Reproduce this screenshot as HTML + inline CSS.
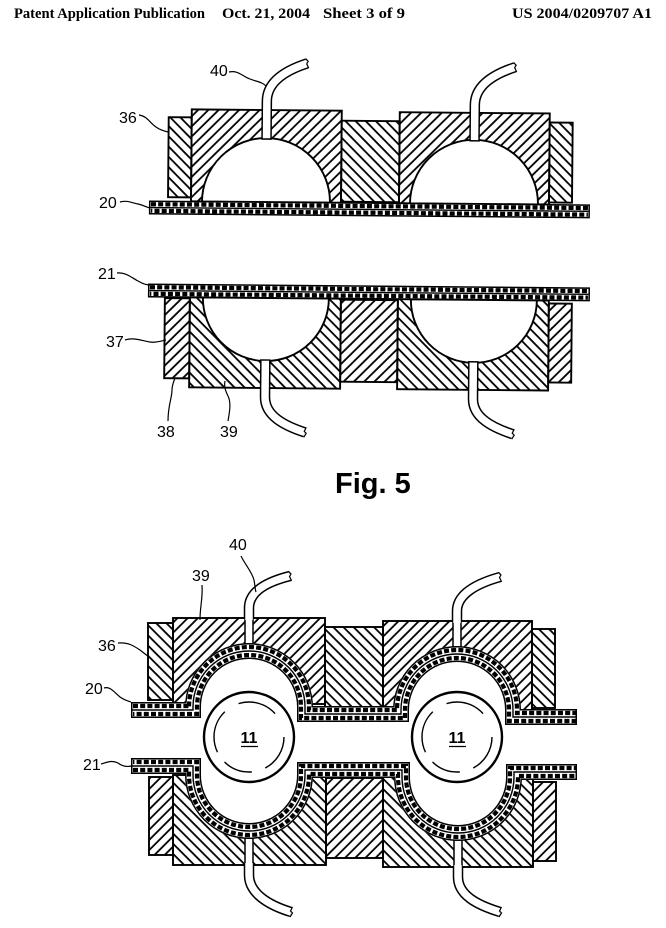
<!DOCTYPE html>
<html><head><meta charset="utf-8">
<style>
html,body{margin:0;padding:0;background:#fff;}
svg{display:block;}
.hd{font-family:"Liberation Serif",serif;font-weight:bold;font-size:15px;}
.lb{font-family:"Liberation Sans",sans-serif;font-size:16px;}
.fig{font-family:"Liberation Sans",sans-serif;font-weight:bold;font-size:29px;}
.blk{stroke:#000;stroke-width:1.9;}
.ld{fill:none;stroke:#000;stroke-width:1.2;}
.s1{fill:none;stroke:#000;}
.s2{fill:none;stroke:#fff;}
.s3{fill:none;stroke:#000;stroke-width:1.4;}
.s4{fill:none;stroke:#000;stroke-width:4.2;stroke-dasharray:5 2.2;}
.s5{fill:none;stroke:#000;stroke-width:4.2;stroke-dasharray:5 2.2;stroke-dashoffset:3.6;}
.t1{fill:none;stroke:#000;stroke-width:10.5;}
.t2{fill:none;stroke:#fff;stroke-width:7.5;}
.ch{fill:#fff;stroke:#000;stroke-width:1.5;}
.cv{fill:#fff;stroke:#000;stroke-width:1.9;}
</style></head><body>
<svg width="666" height="928" viewBox="0 0 666 928" xmlns="http://www.w3.org/2000/svg">
<defs>
<pattern id="hf" width="7.2" height="7.2" patternUnits="userSpaceOnUse" patternTransform="rotate(45)"><line x1="1" y1="-1" x2="1" y2="9" stroke="#000" stroke-width="1.8"/></pattern>
<pattern id="hb" width="7.2" height="7.2" patternUnits="userSpaceOnUse" patternTransform="rotate(-45)"><line x1="1" y1="-1" x2="1" y2="9" stroke="#000" stroke-width="1.8"/></pattern>
</defs>

<!-- Header -->
<text class="hd" x="14" y="18" textLength="191" lengthAdjust="spacingAndGlyphs">Patent Application Publication</text>
<text class="hd" x="222" y="18" textLength="88" lengthAdjust="spacingAndGlyphs">Oct. 21, 2004</text>
<text class="hd" x="323" y="18" textLength="82" lengthAdjust="spacingAndGlyphs">Sheet 3 of 9</text>
<text class="hd" x="512" y="18" textLength="140" lengthAdjust="spacingAndGlyphs">US 2004/0209707 A1</text>

<!-- ===== TOP FIGURE, UPPER HALF ===== -->
<g transform="rotate(0.5 149 200)">
<rect class="blk" x="168" y="117" width="23" height="80" fill="url(#hb)"/>
<rect class="blk" x="191" y="109" width="150" height="92" fill="url(#hf)"/>
<rect class="blk" x="341" y="119" width="58" height="81" fill="url(#hb)"/>
<rect class="blk" x="399" y="110" width="150" height="91" fill="url(#hf)"/>
<rect class="blk" x="549" y="119" width="23" height="80" fill="url(#hb)"/>
<path class="cv" d="M202,201 A64,64 0 0 1 330,201 Z"/>
<path class="cv" d="M410,201 A64,64 0 0 1 538,201 Z"/>
<rect class="ch" x="261.5" y="109" width="9" height="29"/>
<rect class="ch" x="469.5" y="110" width="9" height="28"/>
<path class="t1" d="M266,110 V100 C266,82 282,70 306,62"/>
<path class="t2" d="M266,111 V100 C266,82 282,70 306,62"/>
<path class="ld" d="M304.4,57.3 L307,60 L305.5,62.5 L307.6,66.8"/>
<path class="t1" d="M474,111 V102 C474,84 490,72 514,64"/>
<path class="t2" d="M474,112 V102 C474,84 490,72 514,64"/>
<path class="ld" d="M512.4,59.3 L515,62 L513.5,64.5 L515.6,68.8"/>
<!-- sheet 20 -->
<path class="s1" style="stroke-width:14" d="M149,207.5 H590"/>
<path class="s2" style="stroke-width:11" d="M150.5,207.5 H588.5"/>
<path class="s3" d="M150.5,207.5 H588.5"/>
<path class="s4" d="M151,204.2 H588"/>
<path class="s5" d="M151,210.8 H588"/>
</g>

<!-- ===== TOP FIGURE, LOWER HALF ===== -->
<g transform="rotate(0.5 148 284)">
<rect class="blk" x="165" y="298" width="25" height="80" fill="url(#hf)"/>
<rect class="blk" x="190" y="297" width="151" height="90" fill="url(#hb)"/>
<rect class="blk" x="341" y="298" width="57" height="82" fill="url(#hf)"/>
<rect class="blk" x="398" y="297" width="151" height="90" fill="url(#hb)"/>
<rect class="blk" x="549" y="300" width="23" height="79" fill="url(#hf)"/>
<path class="cv" d="M203,297 A63,63 0 0 0 329,297 Z"/>
<path class="cv" d="M411,297 A63,63 0 0 0 537,297 Z"/>
<rect class="ch" x="261.5" y="359" width="9" height="28"/>
<rect class="ch" x="469.5" y="359" width="9" height="28"/>
<path class="t1" d="M266,386 V396 C266,414 284,424 306,431"/>
<path class="t2" d="M266,385 V396 C266,414 284,424 306,431"/>
<path class="ld" d="M307.5,426 L305.5,430 L307.5,432 L305,436"/>
<path class="t1" d="M474,386 V396 C474,414 492,424 514,431"/>
<path class="t2" d="M474,385 V396 C474,414 492,424 514,431"/>
<path class="ld" d="M515.5,426 L513.5,430 L515.5,432 L513,436"/>
<!-- sheet 21 -->
<path class="s1" style="stroke-width:14" d="M148,290.5 H590"/>
<path class="s2" style="stroke-width:11" d="M149.5,290.5 H588.5"/>
<path class="s3" d="M149.5,290.5 H588.5"/>
<path class="s4" d="M150,287.2 H588"/>
<path class="s5" d="M150,293.8 H588"/>
</g>

<!-- top labels -->
<text class="lb" x="210" y="76">40</text>
<path class="ld" d="M229,72 C238,70 242,76 250,79 C258,82 262,82 266,86"/>
<text class="lb" x="119" y="123">36</text>
<path class="ld" d="M139,115 C147,116 150,123 156,127 C160,130 164,131 168,132"/>
<text class="lb" x="99" y="208">20</text>
<path class="ld" d="M120,202 C128,200 132,203 138,204 C143,205 146,207 150,208"/>
<text class="lb" x="98" y="279">21</text>
<path class="ld" d="M117,273 C126,272 132,278 138,281 C143,284 146,285 150,285"/>
<text class="lb" x="106" y="347">37</text>
<path class="ld" d="M125,340 C135,337 142,341 150,342 C156,343 161,341 166,340"/>
<text class="lb" x="157" y="437">38</text>
<path class="ld" d="M168,421 C168,405 172,398 172,390 C172,385 174,381 175,378"/>
<text class="lb" x="220" y="437">39</text>
<path class="ld" d="M228,421 C230,410 231,402 228,396 C225,390 224,386 225,381"/>

<!-- Fig. 5 -->
<text class="fig" x="335" y="493">Fig. 5</text>

<!-- ===== BOTTOM FIGURE, UPPER HALF ===== -->
<rect class="blk" x="148" y="623" width="25" height="77" fill="url(#hb)"/>
<rect class="blk" x="173" y="618" width="152" height="86" fill="url(#hf)"/>
<rect class="blk" x="325" y="627" width="58" height="80" fill="url(#hb)"/>
<rect class="blk" x="383" y="621" width="149" height="89" fill="url(#hf)"/>
<rect class="blk" x="532" y="629" width="23" height="79" fill="url(#hb)"/>
<path fill="#fff" d="M185,712 V707 A64,64 0 0 1 313,707 V712 Z"/>
<path fill="#fff" d="M393,714 V710 A64,64 0 0 1 521,710 V714 Z"/>
<rect class="ch" x="245" y="618" width="8" height="26"/>
<rect class="ch" x="453" y="621" width="8" height="26"/>
<path class="t1" d="M249,619 V608 C249,592 266,582 290,576"/>
<path class="t2" d="M249,620 V608 C249,592 266,582 290,576"/>
<path class="ld" d="M288.5,571.3 L291,574 L289.5,576.5 L291.6,580.8"/>
<path class="t1" d="M457,622 V611 C457,595 475,584 500,577"/>
<path class="t2" d="M457,623 V611 C457,595 475,584 500,577"/>
<path class="ld" d="M498.5,572.3 L501,575 L499.5,577.5 L501.6,581.8"/>
<!-- sheet 20 formed -->
<path class="s1" style="stroke-width:16;stroke-linejoin:miter" d="M131,710 H193 V707 A56,56 0 0 1 305,707 V714 H401 V710 A56,56 0 0 1 513,710 V717 H577"/>
<path class="s2" style="stroke-width:13;stroke-linejoin:miter" d="M132.5,710 H193 V707 A56,56 0 0 1 305,707 V714 H401 V710 A56,56 0 0 1 513,710 V717 H575.5"/>
<path class="s3" d="M132.5,710 H193 V707 A56,56 0 0 1 305,707 V714 H401 V710 A56,56 0 0 1 513,710 V717 H575.5"/>
<path class="s4" d="M133,706 H189 V707 A60,60 0 0 1 309,707 V710 H397 V710 A60,60 0 0 1 517,710 V713 H576"/>
<path class="s5" d="M133,714 H197 V707 A52,52 0 0 1 301,707 V718 H405 V710 A52,52 0 0 1 509,710 V721 H576"/>

<!-- ===== BOTTOM FIGURE, LOWER HALF ===== -->
<rect class="blk" x="149" y="777" width="24" height="78" fill="url(#hf)"/>
<rect class="blk" x="173" y="775" width="153" height="90" fill="url(#hb)"/>
<rect class="blk" x="326" y="778" width="57" height="80" fill="url(#hf)"/>
<rect class="blk" x="383" y="775" width="150" height="92" fill="url(#hb)"/>
<rect class="blk" x="533" y="782" width="23" height="79" fill="url(#hf)"/>
<path fill="#fff" d="M185,771 V775 A64,64 0 0 0 313,775 V771 Z"/>
<path fill="#fff" d="M394,771 V777 A64,64 0 0 0 522,777 V771 Z"/>
<rect class="ch" x="245" y="838" width="8" height="27"/>
<rect class="ch" x="454" y="840" width="8" height="27"/>
<path class="t1" d="M249,864 V875 C249,893 268,905 291,912"/>
<path class="t2" d="M249,863 V875 C249,893 268,905 291,912"/>
<path class="ld" d="M292.5,907 L290.5,911 L292.5,913 L290,917"/>
<path class="t1" d="M458,866 V877 C458,895 477,905 500,912"/>
<path class="t2" d="M458,865 V877 C458,895 477,905 500,912"/>
<path class="ld" d="M501.5,907 L499.5,911 L501.5,913 L499,917"/>
<!-- sheet 21 formed -->
<path class="s1" style="stroke-width:16;stroke-linejoin:miter" d="M131,766 H193 V775 A56,56 0 0 0 305,775 V770 H402 V777 A56,56 0 0 0 514,777 V772 H577"/>
<path class="s2" style="stroke-width:13;stroke-linejoin:miter" d="M132.5,766 H193 V775 A56,56 0 0 0 305,775 V770 H402 V777 A56,56 0 0 0 514,777 V772 H575.5"/>
<path class="s3" d="M132.5,766 H193 V775 A56,56 0 0 0 305,775 V770 H402 V777 A56,56 0 0 0 514,777 V772 H575.5"/>
<path class="s4" d="M133,770 H189 V775 A60,60 0 0 0 309,775 V774 H398 V777 A60,60 0 0 0 518,777 V776 H576"/>
<path class="s5" d="M133,762 H197 V775 A52,52 0 0 0 301,775 V766 H406 V777 A52,52 0 0 0 510,777 V768 H576"/>

<!-- balls 11 -->
<circle cx="249" cy="737" r="45" fill="#fff" stroke="#000" stroke-width="2.4"/>
<circle cx="249" cy="737" r="35" fill="none" stroke="#000" stroke-width="1.4" stroke-dasharray="38 14 30 12 44 16 40 26"/>
<text class="lb" x="249" y="743" text-anchor="middle" font-weight="bold">11</text>
<line x1="241" y1="746.5" x2="258" y2="746.5" stroke="#000" stroke-width="1.3"/>
<circle cx="457" cy="737" r="45" fill="#fff" stroke="#000" stroke-width="2.4"/>
<circle cx="457" cy="737" r="35" fill="none" stroke="#000" stroke-width="1.4" stroke-dasharray="38 14 30 12 44 16 40 26"/>
<text class="lb" x="457" y="743" text-anchor="middle" font-weight="bold">11</text>
<line x1="449" y1="746.5" x2="466" y2="746.5" stroke="#000" stroke-width="1.3"/>

<!-- bottom labels -->
<text class="lb" x="229" y="550">40</text>
<path class="ld" d="M241,556 C246,566 252,572 254,580 C255,585 255,589 256,592"/>
<text class="lb" x="192" y="581">39</text>
<path class="ld" d="M202,585 C203,598 200,606 200,620"/>
<text class="lb" x="98" y="651">36</text>
<path class="ld" d="M118,643 C128,642 134,646 140,650 C144,653 146,655 148,656"/>
<text class="lb" x="85" y="694">20</text>
<path class="ld" d="M104,688 C110,686 114,692 120,697 C124,700 128,701 131,702"/>
<text class="lb" x="83" y="770">21</text>
<path class="ld" d="M101,764 C108,762 112,760 118,763 C122,766 127,767 131,766"/>
</svg>
</body></html>
